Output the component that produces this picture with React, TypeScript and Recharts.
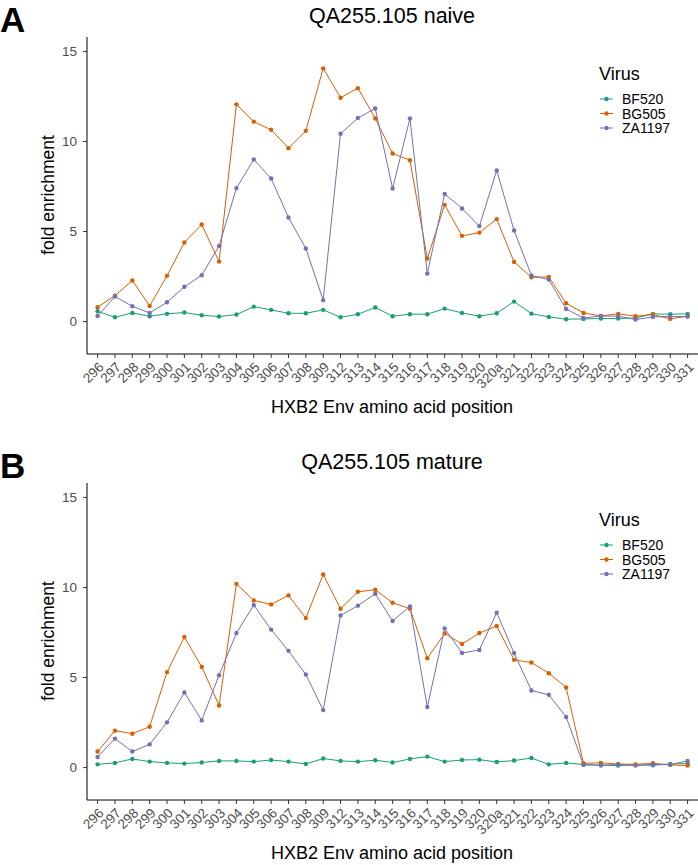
import React from "react";
import { LineChart, Line, XAxis, YAxis } from "recharts";

// HXB2 Env positions (x categories)
const positions = [
  "296", "297", "298", "299", "300", "301", "302", "303", "304", "305", "306", "307", "308", "309",
  "312", "313", "314", "315", "316", "317", "318", "319", "320", "320a",
  "321", "322", "323", "324", "325", "326", "327", "328", "329", "330", "331",
];

const yTicks = [0, 5, 10, 15];

// Panel A: naive
const naiveBF520 = [
  0.57, 0.24, 0.48, 0.3, 0.43, 0.5, 0.35, 0.28, 0.39, 0.83, 0.65, 0.46, 0.46, 0.65,
  0.24, 0.41, 0.78, 0.3, 0.41, 0.41, 0.72, 0.48, 0.3, 0.46,
  1.11, 0.44, 0.26, 0.13, 0.15, 0.17, 0.17, 0.2, 0.43, 0.41, 0.43,
];
const naiveBG505 = [
  0.8, 1.44, 2.28, 0.87, 2.54, 4.39, 5.39, 3.33, 12.06, 11.1, 10.65, 9.63, 10.59, 14.06,
  12.43, 12.96, 11.28, 9.33, 8.96, 3.5, 6.48, 4.76, 4.94, 5.69,
  3.31, 2.46, 2.48, 1.02, 0.48, 0.31, 0.43, 0.3, 0.39, 0.15, 0.3,
];
const naiveZA1197 = [
  0.31, 1.39, 0.85, 0.48, 1.07, 1.93, 2.57, 4.2, 7.41, 9.0, 7.94, 5.78, 4.06, 1.19,
  10.43, 11.3, 11.83, 7.39, 11.28, 2.67, 7.09, 6.28, 5.3, 8.39,
  5.06, 2.56, 2.33, 0.7, 0.2, 0.31, 0.3, 0.11, 0.26, 0.28, 0.28,
];

// Panel B: mature
const matureBF520 = [
  0.18, 0.26, 0.48, 0.33, 0.26, 0.22, 0.28, 0.37, 0.37, 0.33, 0.42, 0.33, 0.2, 0.5,
  0.37, 0.33, 0.41, 0.28, 0.48, 0.61, 0.33, 0.42, 0.44, 0.31,
  0.39, 0.53, 0.18, 0.26, 0.17, 0.13, 0.11, 0.15, 0.13, 0.2, 0.22,
];
const matureBG505 = [
  0.89, 2.05, 1.88, 2.27, 5.3, 7.25, 5.59, 3.45, 10.2, 9.28, 9.06, 9.56, 8.3, 10.72,
  8.82, 9.76, 9.87, 9.15, 8.82, 6.07, 7.45, 6.86, 7.47, 7.86,
  5.98, 5.83, 5.24, 4.45, 0.24, 0.26, 0.2, 0.18, 0.24, 0.15, 0.11,
];
const matureZA1197 = [
  0.59, 1.61, 0.89, 1.29, 2.51, 4.17, 2.62, 5.13, 7.47, 9.02, 7.66, 6.48, 5.17, 3.19,
  8.45, 8.99, 9.65, 8.14, 8.95, 3.36, 7.73, 6.36, 6.53, 8.6,
  6.36, 4.28, 4.04, 2.81, 0.15, 0.13, 0.17, 0.11, 0.17, 0.17, 0.37,
];

const viruses = [
  { key: "BF520", color: "#1b9e77" },
  { key: "BG505", color: "#d95f02" },
  { key: "ZA1197", color: "#7570b3" },
];

const FONT = "'Liberation Sans', Arial, Helvetica, sans-serif";

const buildRows = (bf: number[], bg: number[], za: number[]) =>
  positions.map((pos, i) => ({ pos, BF520: bf[i], BG505: bg[i], ZA1197: za[i] }));

const naiveRows = buildRows(naiveBF520, naiveBG505, naiveZA1197);
const matureRows = buildRows(matureBF520, matureBG505, matureZA1197);

// rotated x tick, anchored at its top-right corner like ggplot's angle=45, hjust=1
const PosTick = ({ x, y, payload }: any) => (
  <g transform={`translate(${x},${y})`}>
    <text
      x={0}
      y={0}
      dy="0.72em"
      textAnchor="end"
      transform="rotate(-45)"
      fontSize={13.5}
      fill="#4d4d4d"
      fontFamily={FONT}
    >
      {payload.value}
    </text>
  </g>
);

function Panel({ rows, height, top, bottom }: { rows: any[]; height: number; top: number; bottom: number }) {
  return (
    <LineChart width={698} height={height} data={rows} margin={{ top, right: 0, bottom: 0, left: 0 }}>
      <XAxis
        dataKey="pos"
        scale="point"
        interval={0}
        height={bottom}
        padding={{ left: 10.6, right: 10.4 }}
        tickSize={4}
        tickMargin={3}
        stroke="#000"
        tick={<PosTick />}
        tickLine={{ stroke: "#333" }}
      />
      <YAxis
        type="number"
        domain={[-1.8, 15.8]}
        ticks={yTicks}
        allowDataOverflow
        width={87}
        tickSize={4}
        tickMargin={6}
        stroke="#000"
        tick={{ fontSize: 13.5, fill: "#4d4d4d", fontFamily: FONT }}
        tickLine={{ stroke: "#333" }}
      />
      {viruses.map((v) => (
        <Line
          key={v.key}
          type="linear"
          dataKey={v.key}
          stroke={v.color}
          strokeWidth={1}
          dot={{ r: 2.2, fill: v.color, stroke: v.color, strokeWidth: 0 }}
          activeDot={false}
          isAnimationActive={false}
        />
      ))}
    </LineChart>
  );
}

function Annotations({ letter, title, dy }: { letter: string; title: string; dy: number }) {
  return (
    <g fontFamily={FONT}>
      <text x={0} y={32 + dy} fontSize={35} fontWeight="bold" fill="#000">{letter}</text>
      <text x={392} y={23 + dy} fontSize={21.5} textAnchor="middle" fill="#000">{title}</text>
      <text
        x={0}
        y={0}
        fontSize={17.5}
        textAnchor="middle"
        fill="#000"
        transform={`translate(54, ${195 + dy}) rotate(-90)`}
      >
        fold enrichment
      </text>
      <text x={392} y={413 + dy} fontSize={18} textAnchor="middle" fill="#000">
        HXB2 Env amino acid position
      </text>
      <text x={599} y={80 + dy} fontSize={18} fill="#000">Virus</text>
      {viruses.map((v, i) => {
        const cy = 99 + dy + i * 14.5;
        return (
          <g key={v.key}>
            <line x1={600} x2={613} y1={cy} y2={cy} stroke={v.color} strokeWidth={1} />
            <circle cx={606.5} cy={cy} r={2.2} fill={v.color} />
            <text x={622} y={cy + 5} fontSize={14} fill="#000">{v.key}</text>
          </g>
        );
      })}
    </g>
  );
}

export default function App() {
  return (
    <div style={{ position: "absolute", top: 0, left: 0, width: 698, height: 865, background: "#fff" }}>
      <div style={{ position: "absolute", top: 0, left: 0 }}>
        <Panel rows={naiveRows} height={430} top={37} bottom={76} />
      </div>
      <div style={{ position: "absolute", top: 440, left: 0 }}>
        <Panel rows={matureRows} height={425} top={43} bottom={65} />
      </div>
      <svg
        width={698}
        height={865}
        style={{ position: "absolute", top: 0, left: 0, pointerEvents: "none" }}
      >
        <Annotations letter="A" title="QA255.105 naive" dy={0} />
        <Annotations letter="B" title="QA255.105 mature" dy={446} />
      </svg>
    </div>
  );
}
